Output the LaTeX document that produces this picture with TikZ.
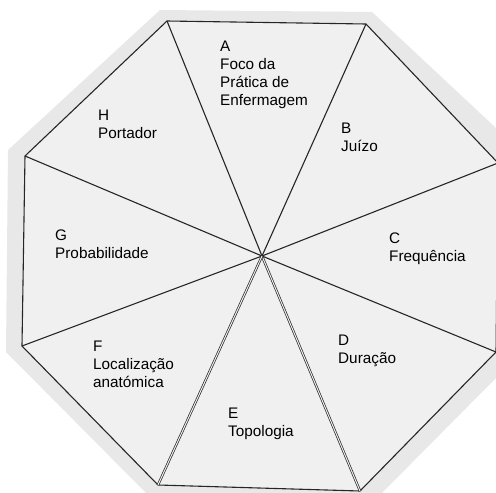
\documentclass[tikz,border=0pt]{standalone}
\usepackage{fontspec}
\setmainfont{Liberation Sans}
\begin{document}
\begin{tikzpicture}[x=1pt,y=-1pt,
  spoke/.style={draw=black!85, line width=1.1pt},
  dspoke/.style={draw=black!85, double=black!6, double distance=1pt, line width=0.7pt},
  rim/.style={draw=black!85, line width=1.1pt, line join=round},
  lbl/.style={anchor=north west, inner sep=0pt, align=left, font=\fontsize{15.3}{18}\selectfont, text=black}]
\useasboundingbox (0,0) rectangle (496,493);
\fill[black!9] (160,10) -- (372,12) -- (496,128) -- (496,378) -- (382,493) -- (146,493) -- (6,352) -- (8,150) -- cycle;
\coordinate (O) at (262,256);
\coordinate (P1) at (167,21);
\coordinate (P2) at (366,24);
\coordinate (P3) at (498,163);
\coordinate (P4) at (496,352);
\coordinate (P5) at (360,491);
\coordinate (P6) at (158,485);
\coordinate (P7) at (22,346);
\coordinate (P8) at (25,156);
\fill[black!6] (P1) -- (P2) -- (P3) -- (P4) -- (P5) -- (P6) -- (P7) -- (P8) -- cycle;
\draw[rim] (P1) -- (P2) -- (P3) -- (P4) -- (P5) -- (P6) -- (P7) -- (P8) -- cycle;
\foreach \p in {P1,P2,P3,P4,P7,P8} \draw[spoke] (O) -- (\p);
\draw[dspoke] (O) -- (P5);
\draw[dspoke] (O) -- (P6);
\node[lbl] (A) at (220,41) {A\\Foco da\\Prática de\\Enfermagem};
\node[lbl] (B) at (341,123) {B\\Juízo};
\node[lbl] (C) at (389,233) {C\\Frequência};
\node[lbl] (D) at (338,335) {D\\Duração};
\node[lbl] (E) at (228,408) {E\\Topologia};
\node[lbl] (F) at (93,341) {F\\Localização\\anatómica};
\node[lbl] (G) at (55,230) {G\\Probabilidade};
\node[lbl] (H) at (98,110) {H\\Portador};
\end{tikzpicture}
\end{document}
